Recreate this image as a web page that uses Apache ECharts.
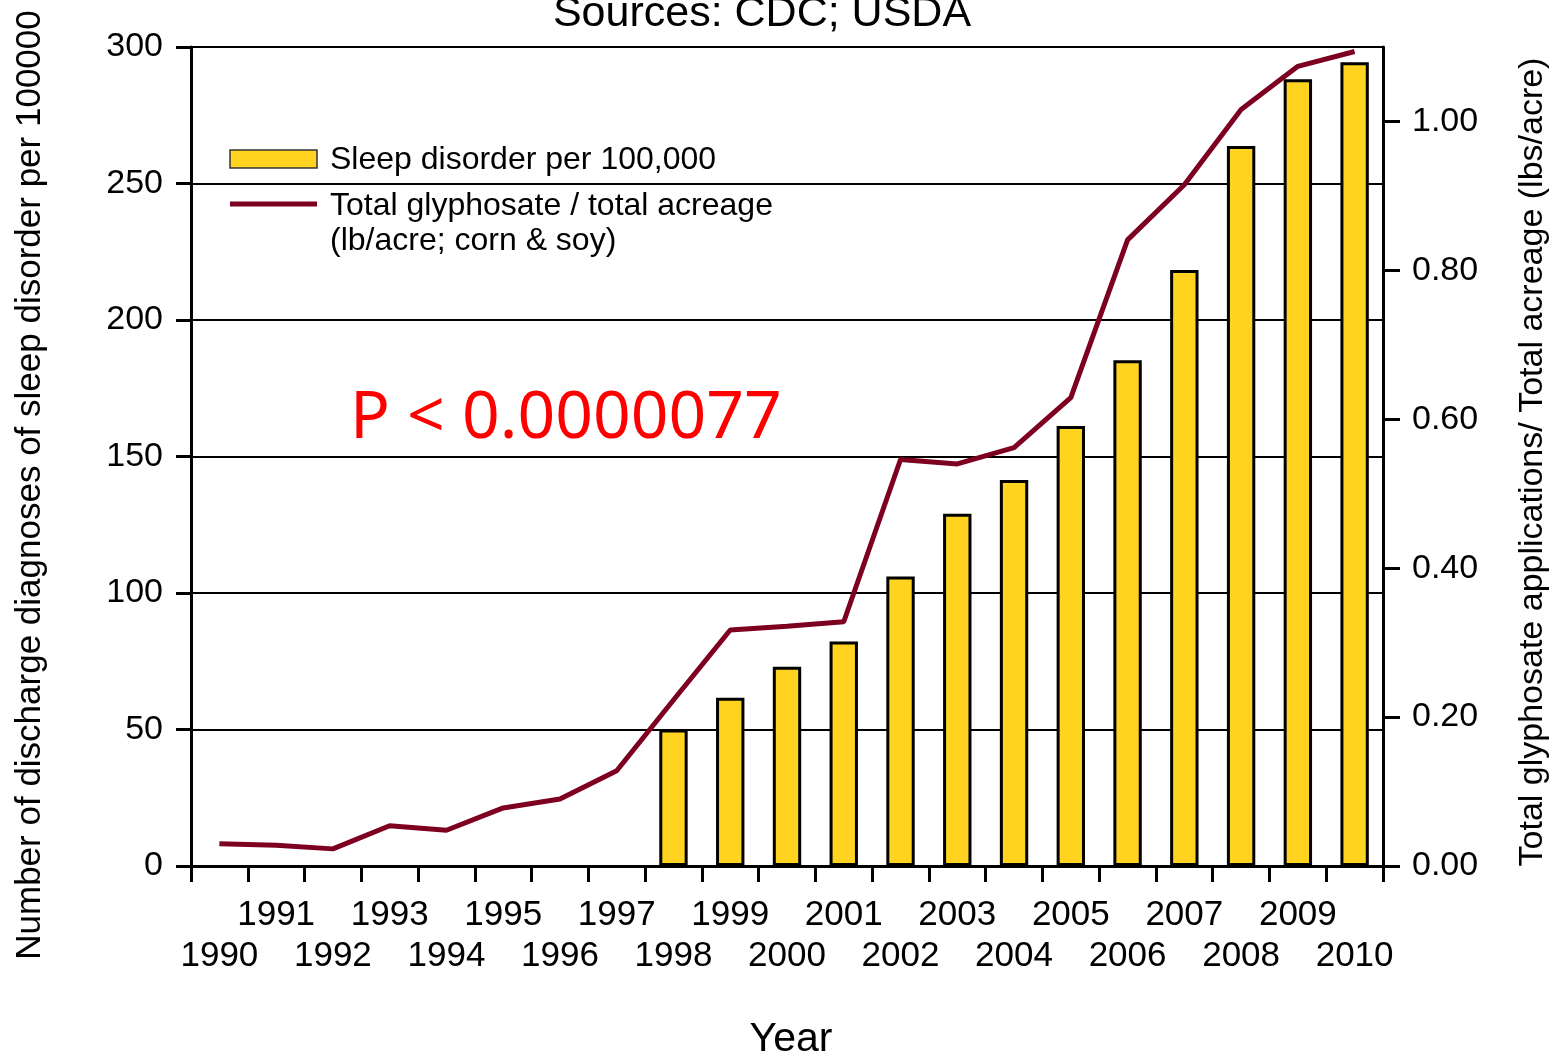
<!DOCTYPE html>
<html>
<head>
<meta charset="utf-8">
<script src="https://cdn.jsdelivr.net/npm/echarts@6/dist/echarts.min.js"></script>
<style>
  html, body { margin: 0; padding: 0; background: #fff; }
  #chart { width: 1558px; height: 1060px; }
</style>
</head>
<body>
<div id="chart"></div>
<script>
// Sleep disorder vs glyphosate — bars on left axis, line on right axis.

const years = ['1990', '1991', '1992', '1993', '1994', '1995', '1996', '1997', '1998', '1999',
  '2000', '2001', '2002', '2003', '2004', '2005', '2006', '2007', '2008', '2009', '2010'];

// sleep disorder diagnoses per 100,000 (no data before 1998)
const sleepDisorder = [null, null, null, null, null, null, null, null, 50, 61.6,
  73, 82.2, 106, 129, 141.4, 161.2, 185.3, 218.3, 263.7, 288.2, 294.4];

// glyphosate lb/acre, corn & soy
const glyphosate = [0.030, 0.028, 0.023, 0.054, 0.048, 0.078, 0.090, 0.128, 0.223, 0.317,
  0.322, 0.328, 0.546, 0.540, 0.562, 0.629, 0.841, 0.915, 1.016, 1.074, 1.094];

const rightTicks = [0, 0.2, 0.4, 0.6, 0.8, 1.0];

const FONT = 'Liberation Sans, Arial, sans-serif';
const BAR_COLOR = '#ffd320';
const LINE_COLOR = '#7e0021';

const chart = echarts.init(document.getElementById('chart'));

const option = {
  animation: false,
  backgroundColor: '#fff',
  grid: { left: 191, right: 175, top: 47, bottom: 194 },
  xAxis: {
    type: 'category',
    data: years,
    boundaryGap: true,
    axisLine: { lineStyle: { color: '#000', width: 3 } },
    axisTick: { show: true, interval: 0, length: 16, lineStyle: { color: '#000', width: 3 } },
    axisLabel: {
      interval: 0,
      color: '#000',
      fontFamily: FONT,
      fontSize: 35,
      lineHeight: 41,
      margin: 29,
      formatter: v => (Number(v) % 2 === 0 ? '\n' + v : v),
    },
  },
  yAxis: [
    {
      type: 'value',
      min: 0,
      max: 300,
      interval: 50,
      axisLine: { show: true, lineStyle: { color: '#000', width: 3 } },
      axisTick: { show: true, length: 15, lineStyle: { color: '#000', width: 3 } },
      axisLabel: { color: '#000', fontFamily: FONT, fontSize: 34, margin: 28 },
      splitLine: { show: true, lineStyle: { color: '#000', width: 2 } },
    },
    {
      type: 'value',
      min: 0,
      max: 1.1,
      position: 'right',
      axisLine: { show: true, lineStyle: { color: '#000', width: 3 } },
      axisTick: { show: true, length: 17, customValues: rightTicks, lineStyle: { color: '#000', width: 3 } },
      axisLabel: {
        color: '#000', fontFamily: FONT, fontSize: 34, margin: 29,
        customValues: rightTicks,
        formatter: v => v.toFixed(2),
      },
      splitLine: { show: false },
    },
  ],
  series: [
    {
      name: 'Sleep disorder per 100,000',
      type: 'bar',
      yAxisIndex: 0,
      barWidth: '50%',
      data: sleepDisorder,
      itemStyle: { color: BAR_COLOR, borderColor: '#000', borderWidth: 3 },
      z: 2,
    },
    {
      name: 'Total glyphosate / total acreage',
      type: 'line',
      yAxisIndex: 1,
      data: glyphosate,
      symbol: 'none',
      lineStyle: { color: LINE_COLOR, width: 5 },
      z: 3,
    },
  ],
  graphic: [
    // title, clipped at the top like the original
    { type: 'text', x: 762, y: 36, style: { text: 'Sources: CDC; USDA', font: '43px ' + FONT, fill: '#000', align: 'center', verticalAlign: 'bottom' } },
    // legend
    { type: 'rect', shape: { x: 230, y: 150, width: 87, height: 18 }, style: { fill: BAR_COLOR, stroke: '#333', lineWidth: 1.5 } },
    { type: 'text', x: 330, y: 160, style: { text: 'Sleep disorder per 100,000', font: '32px ' + FONT, fill: '#000', verticalAlign: 'middle' } },
    { type: 'line', shape: { x1: 230, y1: 204, x2: 317, y2: 204 }, style: { stroke: LINE_COLOR, lineWidth: 5 } },
    { type: 'text', x: 330, y: 206, style: { text: 'Total glyphosate / total acreage', font: '32px ' + FONT, fill: '#000', verticalAlign: 'middle' } },
    { type: 'text', x: 330, y: 241, style: { text: '(lb/acre; corn & soy)', font: '32px ' + FONT, fill: '#000', verticalAlign: 'middle' } },
    // p-value
    { type: 'text', x: 350, y: 419, style: { text: 'P < 0.0000077', font: '66px Noto Sans, sans-serif', fill: '#ff0000', verticalAlign: 'middle' } },
    // axis names
    { type: 'text', x: 30, y: 485, rotation: Math.PI / 2, style: { text: 'Number of discharge diagnoses of sleep disorder per 100000', font: '35px ' + FONT, fill: '#000', align: 'center', verticalAlign: 'middle' } },
    { type: 'text', x: 1533, y: 462, rotation: Math.PI / 2, style: { text: 'Total glyphosate applications/ Total acreage (lbs/acre)', font: '34px ' + FONT, fill: '#000', align: 'center', verticalAlign: 'middle' } },
    { type: 'text', x: 791, y: 1040, style: { text: 'Year', font: '41px ' + FONT, fill: '#000', align: 'center', verticalAlign: 'middle' } },
  ],
};

chart.setOption(option);
</script>
</body>
</html>
